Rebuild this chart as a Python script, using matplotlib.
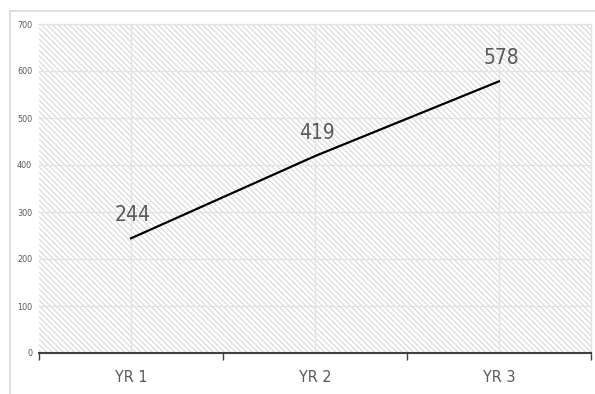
import matplotlib
matplotlib.use("Agg")
import matplotlib.pyplot as plt
from matplotlib.patches import Rectangle
from matplotlib import font_manager

categories = ["YR 1", "YR 2", "YR 3"]
values = [244, 419, 578]
y_ticks = [0, 100, 200, 300, 400, 500, 600, 700]

names = {f.name for f in font_manager.fontManager.ttflist}
fam = "Liberation Sans Narrow" if "Liberation Sans Narrow" in names else "DejaVu Sans"
plt.rcParams['font.family'] = [fam, 'DejaVu Sans']
plt.rcParams['font.stretch'] = 'condensed'
plt.rcParams['hatch.linewidth'] = 0.6

fig = plt.figure(figsize=(5.95, 3.94), dpi=100)
fig.patch.set_facecolor("white")
# outer chart frame
fig.add_artist(Rectangle((10/595, -0.05), 1.2, (394-11)/394 + 0.05, transform=fig.transFigure,
                         fill=False, edgecolor="#d9d9d9", linewidth=1.2))

ax = fig.add_axes([39/595, 41/394, 552/595, 329/394])
ax.set_facecolor("white")
ax.add_patch(Rectangle((0, 0), 1, 1, transform=ax.transAxes, facecolor="white",
                       edgecolor="#cccccc", hatch="\\" * 6, linewidth=0, zorder=0))

x = list(range(len(categories)))
ax.plot(x, values, color="black", linewidth=1.6, zorder=3)
for xi, v in zip(x, values):
    ax.annotate(str(v), (xi, v), xytext=(2, 23), textcoords="offset pixels",
                ha="center", va="center", fontsize=15, color="#595959", zorder=4)

ax.set_xlim(-0.5, len(categories) - 0.5)
ax.set_ylim(0, 700)
ax.set_yticks(y_ticks)
ax.set_yticklabels([str(t) for t in y_ticks], fontsize=6.5, color="#595959")
ax.set_xticks(x)
ax.set_xticklabels(categories, fontsize=11.5, color="#595959")
ax.set_xticks([i - 0.5 for i in range(len(categories) + 1)], minor=True)
ax.tick_params(axis="x", which="major", length=0, pad=12)
ax.tick_params(axis="x", which="minor", length=5, width=1, color="#404040")
ax.tick_params(axis="y", length=0, pad=5)
ax.grid(True, which="major", color="#e3e3e3", linewidth=1, zorder=1)
ax.set_axisbelow(True)
for s in ["top", "right", "left"]:
    ax.spines[s].set_color("#e3e3e3")
    ax.spines[s].set_linewidth(1)
ax.spines["left"].set_visible(False)
ax.spines["bottom"].set_color("#404040")
ax.spines["bottom"].set_linewidth(1.5)

fig.savefig("out.png", dpi=100)
